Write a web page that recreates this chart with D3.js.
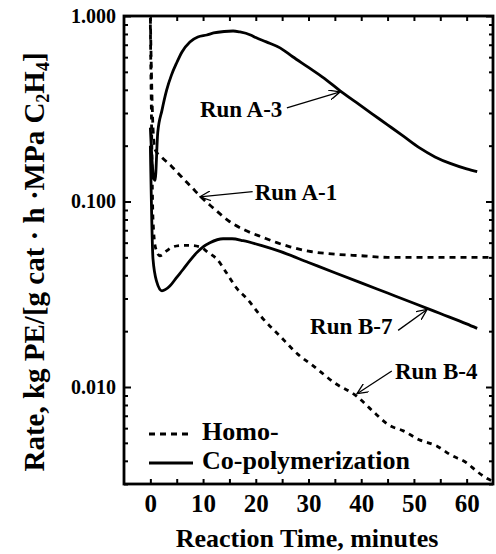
<!DOCTYPE html>
<html>
<head>
<meta charset="utf-8">
<script src="https://cdn.jsdelivr.net/npm/d3@7"></script>
<style>
  body { margin: 0; background: #fff; }
  svg { display: block; }
  text { font-family: "Liberation Serif", "Times New Roman", serif; font-weight: bold; fill: #000; }
</style>
</head>
<body>
<svg width="496" height="554"></svg>
<script>
(function(){
    'use strict';

    // Run A-3 (co-polymerization, solid)
    const timeA3 = [0, 0.3, 0.6, 0.9, 1.4, 2.2, 3.1, 4, 5, 6, 7.5, 9, 10.7, 12, 14, 15.7, 17, 19, 20, 22, 24.6, 27, 30, 33, 36, 39, 42, 45, 48, 51, 54, 57, 60, 62];
    const rateA3 = [0.25, 0.17, 0.135, 0.13, 0.235, 0.31, 0.40, 0.48, 0.56, 0.64, 0.725, 0.77, 0.79, 0.81, 0.825, 0.83, 0.82, 0.79, 0.765, 0.725, 0.673, 0.603, 0.528, 0.461, 0.395, 0.343, 0.298, 0.259, 0.225, 0.195, 0.174, 0.16, 0.15, 0.145];

    // Run B-7 (co-polymerization, solid)
    const timeB7 = [0, 0.5, 1.2, 2.2, 3.7, 5, 6.2, 7.5, 8.8, 10, 11.3, 13.8, 15.5, 17.6, 21, 24.6, 30, 35, 40, 45, 50, 55, 60, 62];
    const rateB7 = [0.2, 0.049, 0.037, 0.033, 0.035, 0.039, 0.043, 0.048, 0.053, 0.057, 0.06, 0.063, 0.063, 0.0615, 0.058, 0.0538, 0.0469, 0.0413, 0.0364, 0.0321, 0.0283, 0.0249, 0.0219, 0.0207];

    // Run A-1 (homo, dashed)
    const timeA1 = [0, 0.2, 0.5, 0.9, 2, 4, 6, 8, 9.4, 12, 15, 18, 21.4, 24, 26.5, 30, 35, 40, 45, 50, 55, 60, 65];
    const rateA1 = [0.98, 0.5, 0.25, 0.19, 0.175, 0.155, 0.135, 0.118, 0.107, 0.092, 0.078, 0.07, 0.064, 0.06, 0.057, 0.054, 0.052, 0.051, 0.05, 0.05, 0.05, 0.05, 0.05];

    // Run B-4 (homo, dashed)
    const timeB4 = [0, 0.2, 0.5, 1, 1.8, 3, 4.3, 6, 7.5, 9.4, 11, 12.6, 14.5, 16.4, 18.3, 21, 24.6, 28, 30.9, 35, 39.2, 42, 45.4, 48, 51, 54.4, 57, 60, 62, 64, 65];
    const rateB4 = [0.9, 0.3, 0.08, 0.056, 0.051, 0.054, 0.057, 0.058, 0.058, 0.057, 0.053, 0.049, 0.041, 0.034, 0.030, 0.024, 0.0188, 0.015, 0.013, 0.0105, 0.0089, 0.0075, 0.0062, 0.0058, 0.0052, 0.0048, 0.0043, 0.0039, 0.0035, 0.0032, 0.0031];

    const xTicks = [0, 5, 10, 15, 20, 25, 30, 35, 40, 45, 50, 55, 60];
    const yMajor = [1, 0.1, 0.01];

    // annotations: label position and arrow (from -> tip), in data units
    const labels = [
        { text: "Run A-3", t: 9.4, v: 0.286, from: [25.9, 0.32], to: [36, 0.39] },
        { text: "Run A-1", t: 19.8, v: 0.1025, from: [19.4, 0.113], to: [9.4, 0.106] },
        { text: "Run B-7", t: 30.3, v: 0.0193, from: [47, 0.0202], to: [52.5, 0.0262] },
        { text: "Run B-4", t: 46.4, v: 0.011, from: [45.8, 0.0122], to: [39.2, 0.0092] }
    ];

    const svg = d3.select("svg");
    const x = d3.scaleLinear().domain([-5, 65]).range([124, 493]);
    const y = d3.scaleLog().domain([0.003, 1]).range([484, 16]);

    const yMinor = [];
    [0.001, 0.01, 0.1].forEach(d => {
        for (let k = 2; k <= 9; k++) {
            const v = d * k;
            if (v >= 0.003 && v < 1) yMinor.push(v);
        }
    });

    const plot = svg.append("g");
    plot.append("clipPath").attr("id", "clip")
        .append("rect").attr("x", 124).attr("y", 16).attr("width", 369).attr("height", 468);

    const line = d3.line()
        .x(d => x(d[0]))
        .y(d => y(d[1]))
        .curve(d3.curveMonotoneX);

    const series = [
        { t: timeA1, r: rateA1, dash: "6,5" },
        { t: timeB4, r: rateB4, dash: "5,5" },
        { t: timeA3, r: rateA3, dash: null },
        { t: timeB7, r: rateB7, dash: null }
    ];

    plot.selectAll("path.curve")
        .data(series)
        .join("path")
        .attr("class", "curve")
        .attr("clip-path", "url(#clip)")
        .attr("d", s => line(s.t.map((t, i) => [t, s.r[i]])))
        .attr("fill", "none")
        .attr("stroke", "#000")
        .attr("stroke-width", 2.8)
        .attr("stroke-dasharray", s => s.dash);

    // axes (ticks inward)
    function styleAxis(g) {
        g.select(".domain").remove();
        g.selectAll(".tick line").attr("stroke", "#000").attr("stroke-width", 2);
        g.selectAll("text").attr("font-family", null);
    }

    svg.append("g").attr("transform", "translate(0,484)")
        .call(d3.axisBottom(x).tickValues(xTicks).tickSizeInner(-5).tickPadding(10)
            .tickFormat(d => d % 10 === 0 ? d : ""))
        .call(styleAxis)
        .selectAll("text").attr("font-size", 25).attr("font-weight", "bold");

    svg.append("g").attr("transform", "translate(0,16)")
        .call(d3.axisTop(x).tickValues(xTicks).tickSizeInner(-5).tickFormat(""))
        .call(styleAxis);

    svg.append("g").attr("transform", "translate(124,0)")
        .call(d3.axisLeft(y).tickValues(yMajor).tickSizeInner(-7).tickPadding(8).tickFormat(d3.format(".3f")))
        .call(styleAxis)
        .selectAll("text").attr("font-size", 20).attr("font-weight", "bold");

    svg.append("g").attr("transform", "translate(124,0)")
        .call(d3.axisLeft(y).tickValues(yMinor).tickSizeInner(-4).tickFormat(""))
        .call(styleAxis);

    svg.append("g").attr("transform", "translate(493,0)")
        .call(d3.axisRight(y).tickValues(yMajor).tickSizeInner(-7).tickFormat(""))
        .call(styleAxis);

    svg.append("g").attr("transform", "translate(493,0)")
        .call(d3.axisRight(y).tickValues(yMinor).tickSizeInner(-4).tickFormat(""))
        .call(styleAxis);

    svg.append("rect")
        .attr("x", 124).attr("y", 16).attr("width", 369).attr("height", 468)
        .attr("fill", "none").attr("stroke", "#000").attr("stroke-width", 2.8);

    // arrow marker
    svg.append("defs").append("marker")
        .attr("id", "arrow")
        .attr("viewBox", "0 0 12 10")
        .attr("refX", 11).attr("refY", 5)
        .attr("markerWidth", 12).attr("markerHeight", 10)
        .attr("markerUnits", "userSpaceOnUse")
        .attr("orient", "auto")
        .append("path")
        .attr("d", "M0,0 L11,5 L0,10")
        .attr("fill", "none")
        .attr("stroke", "#000")
        .attr("stroke-width", 1.3);

    svg.selectAll("line.arrow")
        .data(labels)
        .join("line")
        .attr("class", "arrow")
        .attr("x1", d => x(d.from[0])).attr("y1", d => y(d.from[1]))
        .attr("x2", d => x(d.to[0])).attr("y2", d => y(d.to[1]))
        .attr("stroke", "#000").attr("stroke-width", 1.3)
        .attr("marker-end", "url(#arrow)");

    svg.selectAll("text.run")
        .data(labels)
        .join("text")
        .attr("class", "run")
        .attr("x", d => x(d.t))
        .attr("y", d => y(d.v))
        .attr("font-size", 23)
        .text(d => d.text);

    // legend
    const legend = [
        { label: "Homo-", dash: "6,5", yy: 440 },
        { label: "Co-polymerization", dash: null, yy: 469 }
    ];
    const lg = svg.selectAll("g.legend").data(legend).join("g").attr("class", "legend");
    lg.append("line")
        .attr("x1", 149).attr("x2", 193)
        .attr("y1", d => d.yy - 6).attr("y2", d => d.yy - 6)
        .attr("stroke", "#000").attr("stroke-width", 2.8)
        .attr("stroke-dasharray", d => d.dash);
    lg.append("text")
        .attr("x", 202).attr("y", d => d.yy)
        .attr("font-size", 26)
        .text(d => d.label);

    // axis titles
    svg.append("text")
        .attr("x", 307).attr("y", 547)
        .attr("text-anchor", "middle")
        .attr("font-size", 26)
        .text("Reaction Time, minutes");

    const yt = svg.append("text")
        .attr("transform", "translate(44,262) rotate(-90)")
        .attr("text-anchor", "middle")
        .attr("font-size", 29);
    yt.append("tspan").text("Rate, kg PE/[g cat \u00b7 h \u00b7MPa C");
    yt.append("tspan").attr("dy", 5).attr("font-size", 18).text("2");
    yt.append("tspan").attr("dy", -5).text("H");
    yt.append("tspan").attr("dy", 5).attr("font-size", 18).text("4");
    yt.append("tspan").attr("dy", -5).text("]");
})();
</script>
</body>
</html>
